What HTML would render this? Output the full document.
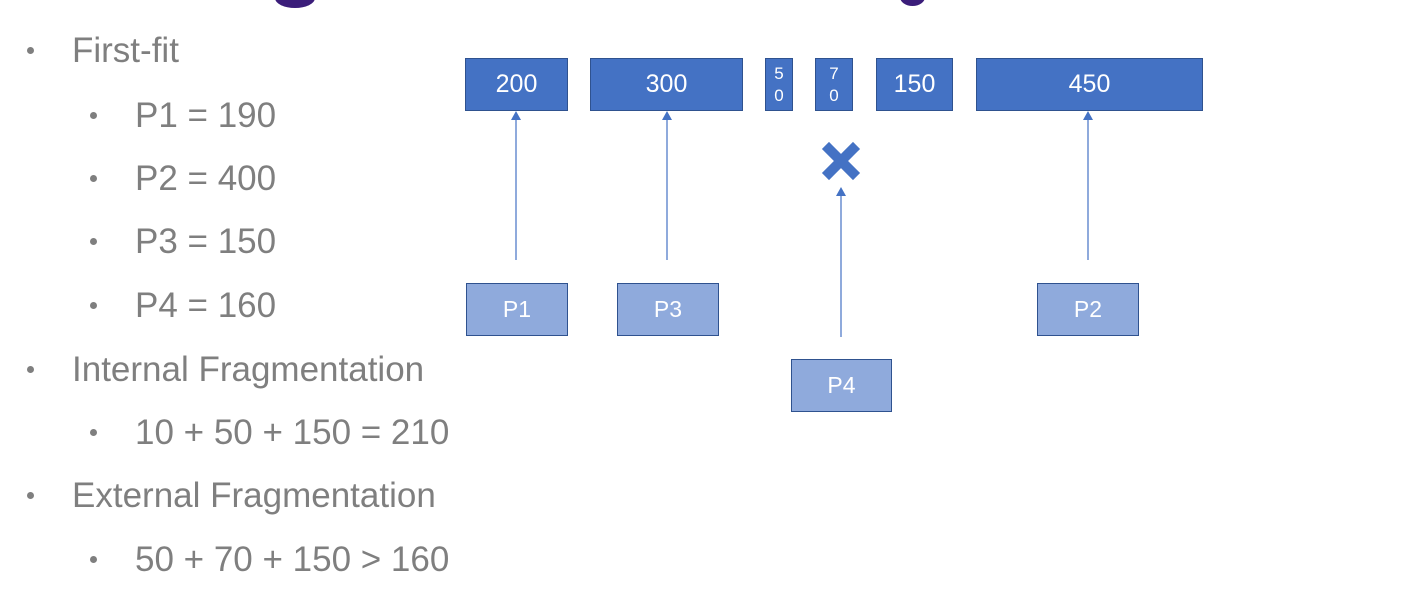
<!DOCTYPE html>
<html><head><style>
body{margin:0;width:1410px;height:601px;background:#fff;position:relative;overflow:hidden;font-family:"Liberation Sans",sans-serif}
.t{position:absolute;color:#7f7f7f;font-size:35px;line-height:1;white-space:nowrap}
.b{position:absolute;width:7px;height:7px;border-radius:50%;background:#7f7f7f}
.m{position:absolute;background:#4472c4;border:1.5px solid #2f528f;box-sizing:border-box;color:#fff;font-size:25px;display:flex;align-items:center;justify-content:center;line-height:1}
.p{position:absolute;background:#8faadc;border:1.5px solid #2f528f;box-sizing:border-box;color:#fff;font-size:23px;display:flex;align-items:center;justify-content:center}
</style></head><body>
<div style="position:absolute;left:275px;top:-12px;width:40px;height:20px;border-radius:50%;background:#3b1d7a"></div>
<div style="position:absolute;left:900px;top:-12px;width:25px;height:18px;border-radius:50%;background:#3b1d7a"></div>

<div class="b" style="left:27px;top:47px"></div><div class="t" style="left:72px;top:33px">First-fit</div>
<div class="b" style="left:90px;top:112px"></div><div class="t" style="left:135px;top:98px">P1 = 190</div>
<div class="b" style="left:90px;top:175px"></div><div class="t" style="left:135px;top:161px">P2 = 400</div>
<div class="b" style="left:90px;top:238px"></div><div class="t" style="left:135px;top:224px">P3 = 150</div>
<div class="b" style="left:90px;top:302px"></div><div class="t" style="left:135px;top:288px">P4 = 160</div>
<div class="b" style="left:27px;top:366px"></div><div class="t" style="left:72px;top:352px">Internal Fragmentation</div>
<div class="b" style="left:90px;top:429px"></div><div class="t" style="left:135px;top:415px">10 + 50 + 150 = 210</div>
<div class="b" style="left:27px;top:492px"></div><div class="t" style="left:72px;top:478px">External Fragmentation</div>
<div class="b" style="left:90px;top:556px"></div><div class="t" style="left:135px;top:542px">50 + 70 + 150 &gt; 160</div>

<div class="m" style="left:465px;top:58px;width:103px;height:53px">200</div>
<div class="m" style="left:590px;top:58px;width:153px;height:53px">300</div>
<div class="m" style="left:765px;top:58px;width:28px;height:53px;font-size:17px;flex-direction:column;line-height:22px">5<br>0</div>
<div class="m" style="left:815px;top:58px;width:38px;height:53px;font-size:17px;flex-direction:column;line-height:22px">7<br>0</div>
<div class="m" style="left:876px;top:58px;width:77px;height:53px">150</div>
<div class="m" style="left:976px;top:58px;width:227px;height:53px">450</div>

<div class="p" style="left:466px;top:283px;width:102px;height:53px">P1</div>
<div class="p" style="left:617px;top:283px;width:102px;height:53px">P3</div>
<div class="p" style="left:1037px;top:283px;width:102px;height:53px">P2</div>
<div class="p" style="left:791px;top:359px;width:101px;height:53px">P4</div>

<svg width="1410" height="601" style="position:absolute;left:0;top:0">
<g stroke="#8faadc" stroke-width="2">
<line x1="516" y1="260" x2="516" y2="118"/>
<line x1="667" y1="260" x2="667" y2="118"/>
<line x1="1088" y1="260" x2="1088" y2="118"/>
<line x1="841" y1="337" x2="841" y2="194"/>
</g>
<g fill="#4472c4">
<polygon points="516,111 511,120 521,120"/>
<polygon points="667,111 662,120 672,120"/>
<polygon points="1088,111 1083,120 1093,120"/>
<polygon points="841,187 836,196 846,196"/>
</g>
<g stroke="#4472c4" stroke-width="10" stroke-linecap="square">
<line x1="829" y1="149" x2="853" y2="173"/>
<line x1="853" y1="149" x2="829" y2="173"/>
</g>
</svg>
</body></html>
